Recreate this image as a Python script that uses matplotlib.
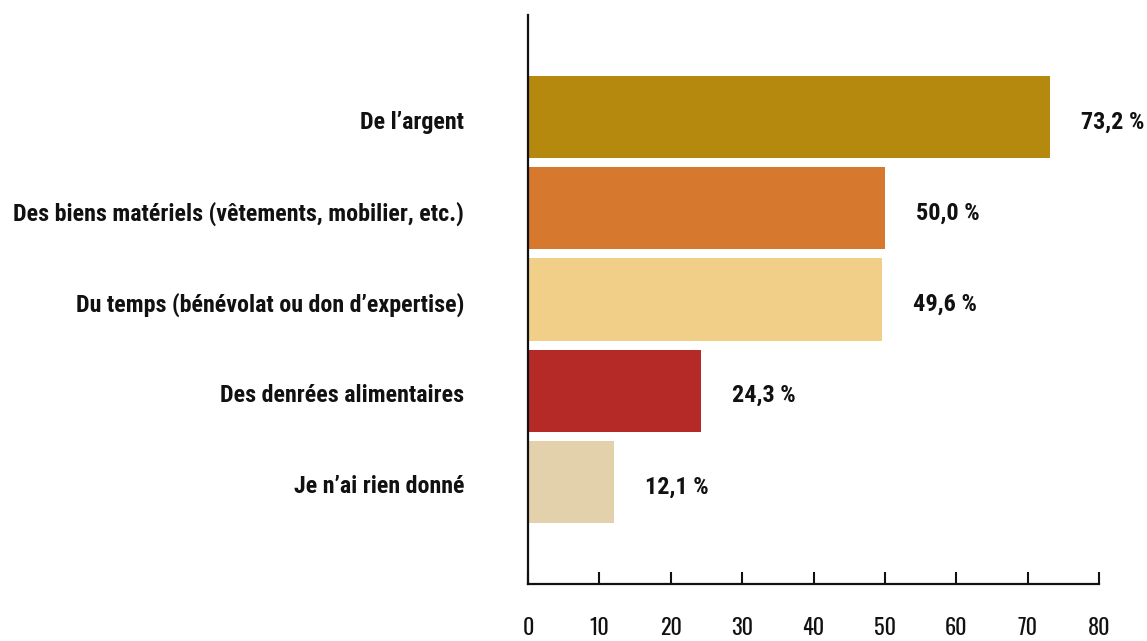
import matplotlib
matplotlib.use("Agg")
import matplotlib.pyplot as plt
from matplotlib import font_manager

categories = [
    "De l\u2019argent",
    "Des biens matériels (vêtements, mobilier, etc.)",
    "Du temps (bénévolat ou don d\u2019expertise)",
    "Des denrées alimentaires",
    "Je n\u2019ai rien donné",
]
values = [73.2, 50.0, 49.6, 24.3, 12.1]
value_labels = ["73,2 %", "50,0 %", "49,6 %", "24,3 %", "12,1 %"]
colors = ["#B5890E", "#D6782D", "#F2CF88", "#B52A26", "#E3D1AB"]
xticks = [0, 10, 20, 30, 40, 50, 60, 70, 80]

names = {f.name for f in font_manager.fontManager.ttflist}


def pick(cands):
    for c in cands:
        if c in names:
            return [c, "DejaVu Sans"]
    return ["DejaVu Sans"]


label_fam = pick(["Roboto Condensed", "Barlow Condensed", "IBM Plex Sans Condensed", "Open Sans"])
tick_fam = pick(["Oswald", "Barlow Condensed", "Roboto Condensed", "IBM Plex Sans Condensed"])
plt.rcParams["font.family"] = label_fam

W, H = 1147, 641
fig = plt.figure(figsize=(W / 100, H / 100), dpi=100)
ax = fig.add_axes([528 / W, 1 - 584 / H, (1099 - 528) / W, (584 - 15) / H])

y = list(range(len(categories)))
ax.barh(y, values, height=0.9, color=colors, zorder=2)
ax.set_ylim(len(categories) - 1 + 1.12, -1.12)
ax.set_xlim(0, 80)

for yi, v, lab in zip(y, values, value_labels):
    ax.annotate(lab, (v, yi), xytext=(31, -5), textcoords="offset pixels",
                ha="left", va="center", fontsize=17.5, fontweight="bold",
                color="#111111", family=label_fam)

ax.set_yticks(y)
ax.set_yticklabels([])
ax.tick_params(axis="y", length=0)
for yi, cat in zip(y, categories):
    ax.annotate(cat, (0, yi), xytext=(-64, -5), textcoords="offset pixels",
                ha="right", va="center", fontsize=17.3, fontweight="bold",
                color="#111111", family=label_fam, annotation_clip=False)

ax.set_xticks(xticks)
ax.set_xticklabels([str(t) for t in xticks], fontsize=16, color="#111111", family=tick_fam)
ax.tick_params(axis="x", direction="in", length=9, width=1.5, pad=24, color="#111111")

for s in ["top", "right"]:
    ax.spines[s].set_visible(False)
for s in ["left", "bottom"]:
    ax.spines[s].set_linewidth(1.6)
    ax.spines[s].set_color("#111111")

fig.savefig("out.png", dpi=100, facecolor="white")
